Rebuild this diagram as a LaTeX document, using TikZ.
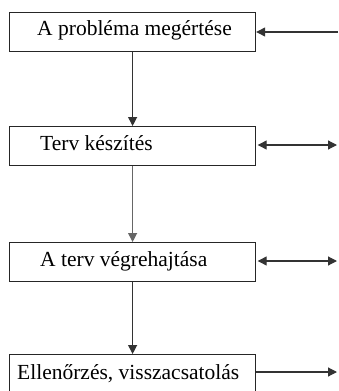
\documentclass[tikz,border=0pt]{standalone}
\usepackage{fontspec}
\setmainfont{Liberation Serif}
\usetikzlibrary{arrows.meta}
\begin{document}
\begin{tikzpicture}[x=1pt,y=-1pt,
  box/.style={draw=black!85,line width=1.2pt,minimum width=246pt,minimum height=39pt,inner sep=0pt,anchor=north west},
  lbl/.style={anchor=base west,inner sep=0pt,font=\fontsize{21.5}{25}\selectfont},
  conn/.style={draw=black!80,line width=1.2pt,-{Triangle[length=9pt,width=9pt]}},
  dconn/.style={draw=black!80,line width=1.2pt,{Triangle[length=9pt,width=9pt]}-{Triangle[length=9pt,width=9pt]}}]
\useasboundingbox (0,0) rectangle (338,391);
\clip (0,0) rectangle (338,391);
\node[box] (b1) at (9,12) {};
\node[box] (b2) at (9,126) {};
\node[box] (b3) at (9,242) {};
\node[box] (b4) at (9,354) {};
\node[lbl] (t1) at (37,35) {A probléma megértése};
\node[lbl] (t2) at (40,150) {Terv készítés};
\node[lbl] (t3) at (40,266.5) {A terv végrehajtása};
\node[lbl] (t4) at (17,379) {Ellenőrzés, visszacsatolás};
\coordinate (r1) at (338,32);
\coordinate (r2) at (337,145);
\coordinate (r3) at (337,261);
\coordinate (r4) at (337,372);
\draw[conn] (b1.south) -- (b2.north);
\draw[conn,draw=black!60] (b2.south) -- (b3.north);
\draw[conn] (b3.south) -- (b4.north);
\draw[conn] (r1) -- (b1.east |- r1);
\draw[dconn,shorten <=1.5pt] (b2.east |- r2) -- (r2);
\draw[dconn,shorten <=1.5pt] (b3.east |- r3) -- (r3);
\draw[conn] (b4.east |- r4) -- (r4);
\end{tikzpicture}
\end{document}
